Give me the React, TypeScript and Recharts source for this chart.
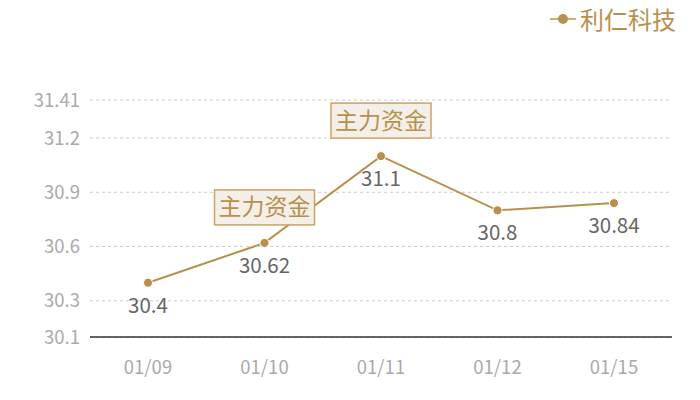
import { CartesianGrid, LabelList, Line, LineChart, XAxis, YAxis } from "recharts";

const DATES = ["01/09", "01/10", "01/11", "01/12", "01/15"];
const PRICES = [30.4, 30.62, 31.1, 30.8, 30.84];
const NOTES = ["", "主力资金", "主力资金", "", ""];
const Y_TICKS = [30.1, 30.3, 30.6, 30.9, 31.2, 31.41];

const GOLD = "#b8904e";
const FONT = "'Noto Sans CJK SC', 'Noto Sans', sans-serif";

const rows = DATES.map((date, i) => ({ date, price: PRICES[i], note: NOTES[i] }));

function ValueLabel(props: any) {
  const { x, y, value } = props;
  return (
    <text x={x} y={y + 30} textAnchor="middle" fill="#666" fontSize={20.5} fontFamily={FONT}>
      {value}
    </text>
  );
}

function NoteLabel(props: any) {
  const { x, y, value } = props;
  if (!value) return null;
  const w = 100;
  const h = 35;
  const top = y - 18 - h;
  return (
    <g>
      <rect x={x - w / 2} y={top} width={w} height={h} fill="#f4efe8" stroke="#c9a466" strokeWidth={1.5} />
      <text x={x} y={top + h / 2 + 8} textAnchor="middle" fill={GOLD} fontSize={23} fontFamily={FONT}>
        {value}
      </text>
    </g>
  );
}

function LegendBox() {
  return (
    <div
      style={{
        position: "absolute",
        top: 4,
        right: 24,
        display: "flex",
        alignItems: "center",
        fontFamily: FONT,
        color: GOLD,
        fontSize: 24,
        lineHeight: "30px",
      }}
    >
      <svg width={26} height={12} style={{ marginRight: 4 }}>
        <line x1={0} y1={6} x2={26} y2={6} stroke={GOLD} strokeWidth={1.5} />
        <circle cx={13} cy={6} r={5} fill={GOLD} />
      </svg>
      <span>利仁科技</span>
    </div>
  );
}

export default function App() {
  return (
    <div style={{ position: "fixed", top: 0, left: 0, width: 700, height: 400, background: "#fff" }}>
      <LineChart width={700} height={400} data={rows} margin={{ top: 100, right: 28, bottom: 23, left: 0 }}>
        <CartesianGrid vertical={false} stroke="#ccc" strokeDasharray="3 3" />
        <XAxis
          dataKey="date"
          padding={{ left: 58, right: 58 }}
          height={40}
          tickSize={0}
          tickMargin={24}
          stroke="#333"
          axisLine={{ stroke: "#333", strokeWidth: 1.5, strokeOpacity: 1 }}
          tick={{ fill: "#aaa", fontSize: 18.5, fontFamily: FONT }}
        />
        <YAxis
          type="number"
          domain={[30.1, 31.41]}
          ticks={Y_TICKS}
          width={90}
          tickSize={0}
          tickMargin={10}
          axisLine={false}
          tick={{ fill: "#aaa", fontSize: 18.5, fontFamily: FONT }}
        />
        <Line
          type="linear"
          dataKey="price"
          stroke={GOLD}
          strokeWidth={2}
          dot={{ r: 4.5, fill: GOLD, stroke: "#fff", strokeWidth: 1 }}
          activeDot={false}
          isAnimationActive={false}
        >
          <LabelList dataKey="price" content={<ValueLabel />} />
          <LabelList dataKey="note" content={<NoteLabel />} />
        </Line>
      </LineChart>
      <LegendBox />
    </div>
  );
}
